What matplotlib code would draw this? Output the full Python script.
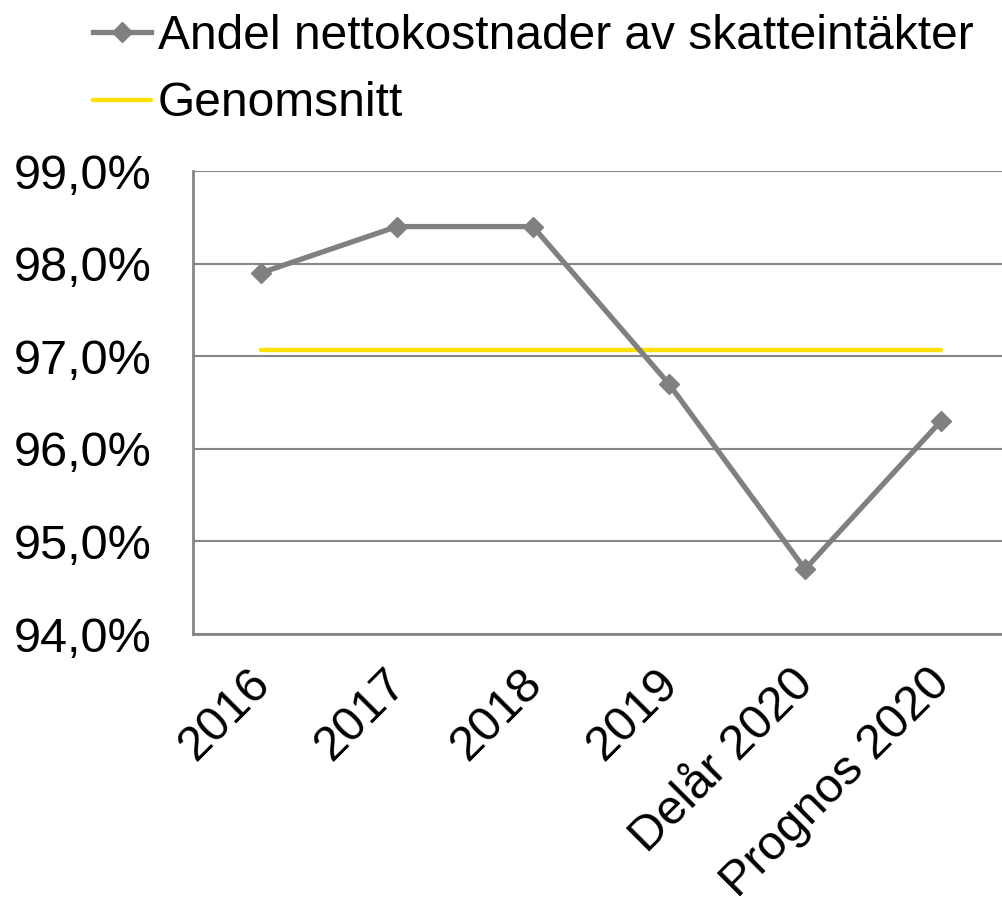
import numpy as np
import matplotlib.pyplot as plt
from matplotlib.transforms import ScaledTranslation

# Data
categories = ['2016', '2017', '2018', '2019', 'Delår 2020', 'Prognos 2020']
andel = [97.9, 98.4, 98.4, 96.7, 94.7, 96.3]
genomsnitt = [97.07] * len(categories)
y_ticks = [94, 95, 96, 97, 98, 99]

plt.rcParams['font.family'] = ['Liberation Sans', 'DejaVu Sans']

fig = plt.figure(figsize=(10.03, 9.01), dpi=100)
ax = fig.add_axes([0.1924, 0.2963, 0.8136, 0.5139])

x = np.arange(len(categories))
ax.plot(x, andel, color='#808080', lw=3.8, marker='D', ms=10,
        label='Andel nettokostnader av skatteintäkter', zorder=3)
ax.plot(x, genomsnitt, color='#FFE100', lw=3.2, solid_capstyle='round',
        label='Genomsnitt', zorder=2)

ax.set_xlim(-0.5, len(categories) - 0.5)
ax.set_ylim(94, 99)
ax.set_yticks(y_ticks)
ax.set_yticklabels([f'{v:.1f}%'.replace('.', ',') for v in y_ticks])
ax.grid(axis='y', color='#868686', lw=1.5)
ax.set_axisbelow(True)

for side in ['top', 'right']:
    ax.spines[side].set_visible(False)
for side in ['left', 'bottom']:
    ax.spines[side].set_color('#868686')
    ax.spines[side].set_linewidth(2)

ax.set_xticks(x)
ax.set_xticklabels(categories, rotation=45, ha='right', rotation_mode='anchor')
ax.tick_params(axis='both', length=0, labelsize=35)
ax.tick_params(axis='x', pad=22)
ax.tick_params(axis='y', pad=30)

# nudge the rotated labels a bit left/up like the original
shift = ScaledTranslation(-0.14, 0.04, fig.dpi_scale_trans)
for lbl in ax.get_xticklabels():
    lbl.set_transform(lbl.get_transform() + shift)

fig.legend(loc='upper left', bbox_to_anchor=(0.074, 1.006), frameon=False,
           fontsize=34.5, handlelength=1.2, handletextpad=0.15,
           labelspacing=0.47, borderaxespad=0)

fig.savefig('out.png', dpi=100)
